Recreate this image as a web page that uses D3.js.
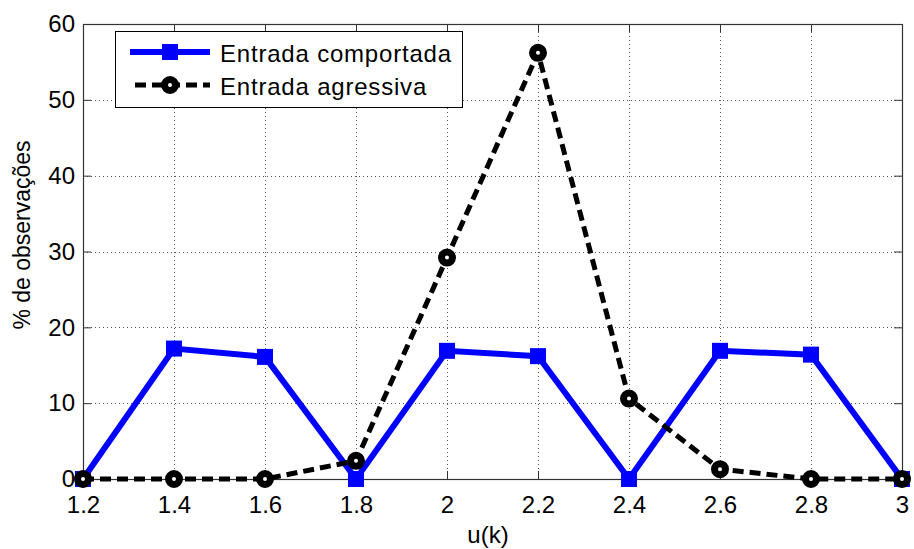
<!DOCTYPE html>
<html>
<head>
<meta charset="utf-8">
<script src="https://cdn.jsdelivr.net/npm/d3@7"></script>
<style>
  body { margin: 0; background: #fff; }
  text { font-family: "Liberation Sans", Arial, sans-serif; fill: #000; }
</style>
</head>
<body>
<svg id="chart" width="914" height="549"></svg>
<script>
// data
var uk = [1.2, 1.4, 1.6, 1.8, 2.0, 2.2, 2.4, 2.6, 2.8, 3.0];
var comportada = [0, 17.2, 16.1, 0, 16.9, 16.2, 0, 16.9, 16.4, 0];
var agressiva = [0, 0, 0, 2.4, 29.2, 56.2, 10.6, 1.3, 0, 0];
var xTicks = [1.2, 1.4, 1.6, 1.8, 2, 2.2, 2.4, 2.6, 2.8, 3];
var yTicks = [0, 10, 20, 30, 40, 50, 60];
var legendNames = ["Entrada comportada", "Entrada agressiva"];

var svg = d3.select("#chart");
var plotL = 83, plotR = 902, plotT = 24, plotB = 479;

var x = d3.scaleLinear().domain([1.2, 3]).range([plotL, plotR]);
var y = d3.scaleLinear().domain([0, 60]).range([plotB, plotT]);

// grid
var grid = svg.append("g").attr("stroke", "#555").attr("stroke-width", 1)
  .attr("stroke-dasharray", "1,3");
grid.selectAll(".gx").data(xTicks.slice(1, -1)).enter().append("line")
  .attr("x1", function(d){ return Math.round(x(d)) + 0.5; })
  .attr("x2", function(d){ return Math.round(x(d)) + 0.5; })
  .attr("y1", plotT).attr("y2", plotB);
grid.selectAll(".gy").data(yTicks.slice(1, -1)).enter().append("line")
  .attr("y1", function(d){ return Math.round(y(d)) + 0.5; })
  .attr("y2", function(d){ return Math.round(y(d)) + 0.5; })
  .attr("x1", plotL).attr("x2", plotR);

// box + inside ticks via axes
var tickLen = 8;
svg.append("g").attr("transform", "translate(0," + plotB + ")")
  .call(d3.axisBottom(x).tickValues(xTicks).tickSize(-tickLen).tickPadding(17)
    .tickFormat(function(d){ return d3.format("")(+d.toFixed(1)); }))
  .call(function(g){ g.select(".domain").remove(); });
svg.append("g").attr("transform", "translate(0," + plotT + ")")
  .call(d3.axisTop(x).tickValues(xTicks).tickSize(-tickLen).tickFormat(""))
  .call(function(g){ g.select(".domain").remove(); });
svg.append("g").attr("transform", "translate(" + plotL + ",0)")
  .call(d3.axisLeft(y).tickValues(yTicks).tickSize(-tickLen).tickPadding(8))
  .call(function(g){ g.select(".domain").remove(); });
svg.append("g").attr("transform", "translate(" + plotR + ",0)")
  .call(d3.axisRight(y).tickValues(yTicks).tickSize(-tickLen).tickFormat(""))
  .call(function(g){ g.select(".domain").remove(); });
svg.selectAll(".tick line").attr("stroke", "#333");
svg.selectAll(".tick text").style("font-size", "24px")
  .style("font-family", "'Liberation Sans', Arial, sans-serif").attr("fill", "#000");

svg.append("rect").attr("x", plotL + 0.5).attr("y", plotT + 0.5)
  .attr("width", plotR - plotL).attr("height", plotB - plotT)
  .attr("fill", "none").attr("stroke", "#333").attr("stroke-width", 1.2);

// series
var line = d3.line().x(function(d){ return x(d[0]); }).y(function(d){ return y(d[1]); });
var blueData = uk.map(function(u, i){ return [u, comportada[i]]; });
var blackData = uk.map(function(u, i){ return [u, agressiva[i]]; });

svg.append("path").datum(blueData).attr("d", line)
  .attr("fill", "none").attr("stroke", "#0000ff").attr("stroke-width", 6)
  .attr("stroke-linejoin", "miter");
svg.selectAll(".sq").data(blueData).enter().append("rect")
  .attr("x", function(d){ return x(d[0]) - 8; })
  .attr("y", function(d){ return y(d[1]) - 8; })
  .attr("width", 16).attr("height", 16).attr("fill", "#0000ff");

svg.append("path").datum(blackData).attr("d", line)
  .attr("fill", "none").attr("stroke", "#000").attr("stroke-width", 5)
  .attr("stroke-dasharray", "11,6");
svg.selectAll(".ci").data(blackData).enter().append("circle")
  .attr("cx", function(d){ return x(d[0]); })
  .attr("cy", function(d){ return y(d[1]); })
  .attr("r", 5.5).attr("fill", "#fff").attr("stroke", "#000").attr("stroke-width", 7);

// axis titles
svg.append("text").attr("x", 488).attr("y", 543)
  .attr("text-anchor", "middle").style("font-size", "24px").text("u(k)");
svg.append("text").attr("transform", "translate(30,235) rotate(-90)")
  .attr("text-anchor", "middle").style("font-size", "23px").text("% de observações");

// legend
var lg = svg.append("g");
lg.append("rect").attr("x", 115.5).attr("y", 31.5).attr("width", 347).attr("height", 76)
  .attr("fill", "#fff").attr("stroke", "#000").attr("stroke-width", 1);
var legRows = [52, 85];
lg.append("line").attr("x1", 130).attr("x2", 210).attr("y1", legRows[0]).attr("y2", legRows[0])
  .attr("stroke", "#0000ff").attr("stroke-width", 6);
lg.append("rect").attr("x", 162).attr("y", legRows[0] - 8).attr("width", 16).attr("height", 16)
  .attr("fill", "#0000ff");
lg.append("line").attr("x1", 135).attr("x2", 210).attr("y1", legRows[1]).attr("y2", legRows[1])
  .attr("stroke", "#000").attr("stroke-width", 5).attr("stroke-dasharray", "11,6");
lg.append("circle").attr("cx", 170).attr("cy", legRows[1]).attr("r", 5.5)
  .attr("fill", "#fff").attr("stroke", "#000").attr("stroke-width", 7);
lg.selectAll(".lt").data(legendNames).enter().append("text")
  .attr("x", 220).attr("y", function(d, i){ return legRows[i] + 10; })
  .style("font-size", "24px").style("letter-spacing", "0.8px").text(function(d){ return d; });
</script>
</body>
</html>
